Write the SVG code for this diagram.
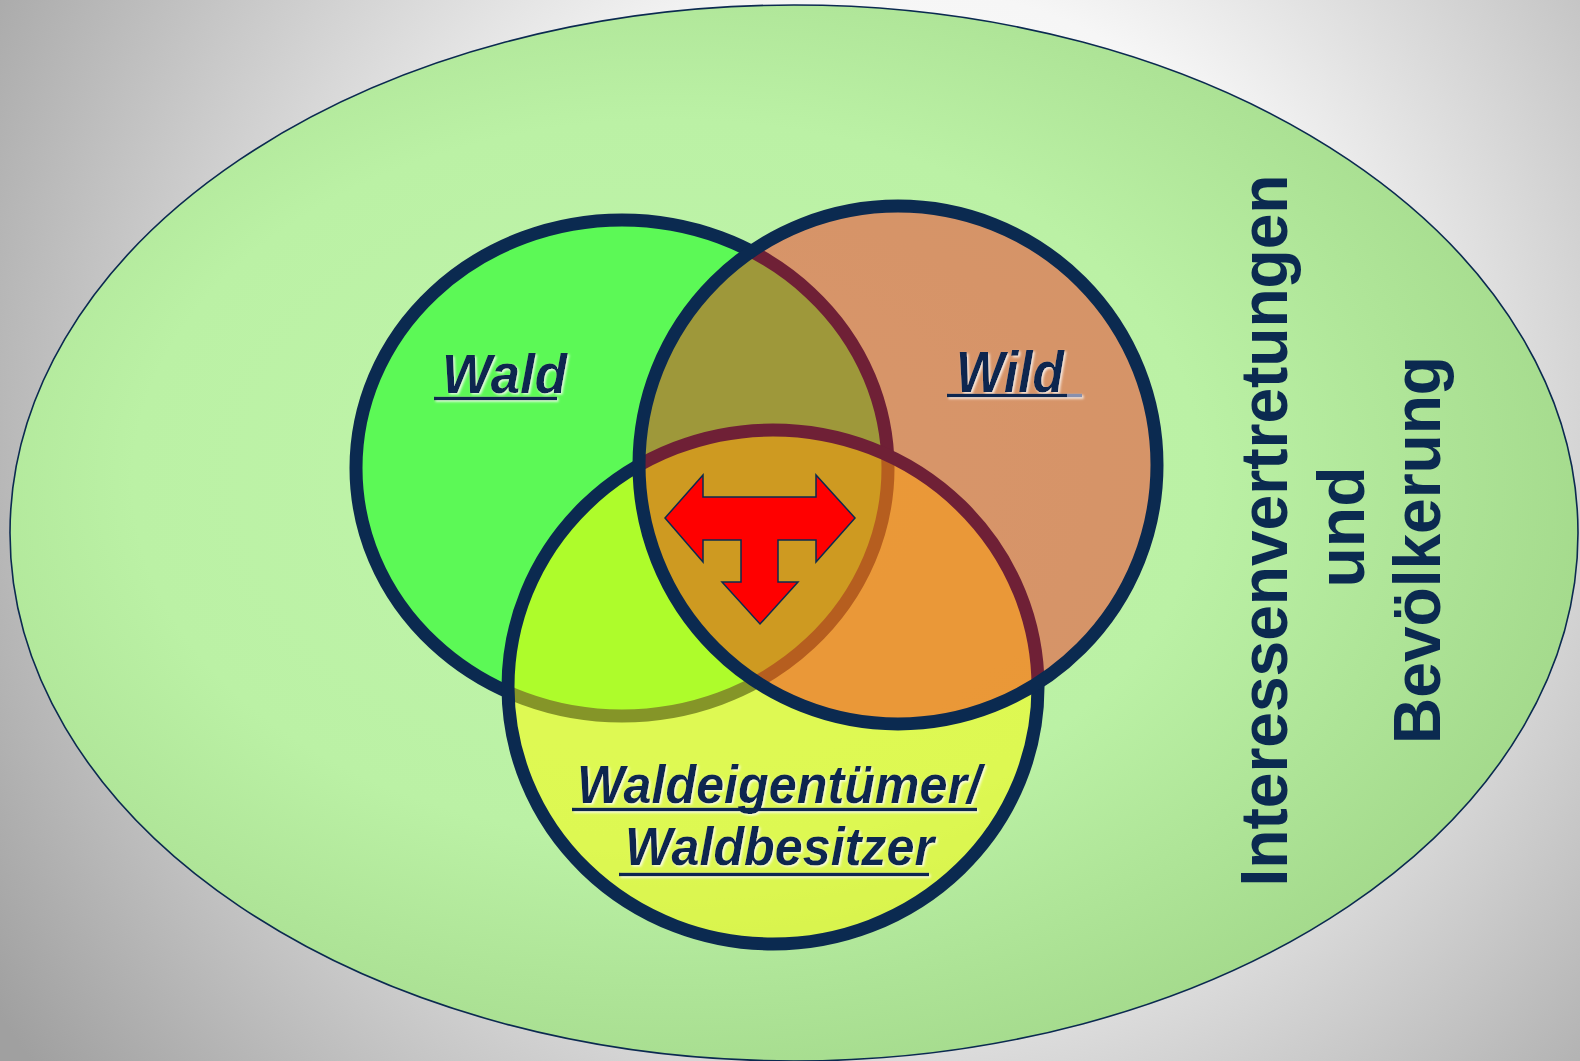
<svg xmlns="http://www.w3.org/2000/svg" width="1580" height="1061" viewBox="0 0 1580 1061">
  <defs>
    <radialGradient id="bg" gradientUnits="userSpaceOnUse" cx="900" cy="420" r="1080">
      <stop offset="0" stop-color="#ffffff"/>
      <stop offset="0.4" stop-color="#f6f6f6"/>
      <stop offset="1" stop-color="#a0a0a0"/>
    </radialGradient>
    <radialGradient id="outerFill" cx="0.42" cy="0.45" r="0.62">
      <stop offset="0" stop-color="#c0f5aa"/>
      <stop offset="0.55" stop-color="#bbf1a5"/>
      <stop offset="1" stop-color="#a2d88a"/>
    </radialGradient>
    <filter id="glow" x="-10%" y="-20%" width="120%" height="140%">
      <feDropShadow dx="1.5" dy="1.5" stdDeviation="0.8" flood-color="#ffffff" flood-opacity="0.85"/>
    </filter>
    <style>
      .ring { stroke: #0b2a50; stroke-width: 13; }
      .lbl { font-family: "Liberation Sans", Arial, sans-serif; font-weight: bold; font-style: italic; fill: #0c2850; }
      .ul { stroke: #0c2850; stroke-width: 3.5; }
      .vt { font-family: "Liberation Sans", Arial, sans-serif; font-weight: bold; fill: #0b2a50; font-size: 66px; }
    </style>
  </defs>

  <rect x="0" y="0" width="1580" height="1061" fill="url(#bg)"/>

  <g id="outer">
    <ellipse cx="794" cy="533" rx="784" ry="528" fill="url(#outerFill)" stroke="#0b2a50" stroke-width="1.6"/>
  </g>

  <g id="wald">
    <ellipse class="ring" cx="622" cy="468" rx="266" ry="248" fill="#5cf956"/>
  </g>

  <g id="besitzer">
    <ellipse class="ring" cx="773" cy="687" rx="265" ry="257" fill="#ffff00" fill-opacity="0.5"/>
  </g>

  <g id="wild">
    <ellipse class="ring" cx="898" cy="465" rx="259" ry="259" fill="#fa1414" fill-opacity="0.42"/>
  </g>

  <g id="connectors"/>

  <g id="conflict-arrow">
    <polygon points="665,518 703,475 703,497 816,497 816,475 855,518 816,562 816,540 778,540 778,582 798,582 760,624 722,582 741,582 741,540 703,540 703,562" fill="#ff0000" stroke="#0b2a50" stroke-width="1.5" stroke-linejoin="miter"/>
  </g>

  <g id="label-wald" filter="url(#glow)">
    <text class="lbl" x="442" y="393" font-size="56" textLength="125" lengthAdjust="spacingAndGlyphs">Wald</text>
    <line class="ul" x1="434" y1="398.5" x2="557" y2="398.5"/>
  </g>

  <g id="label-wild" filter="url(#glow)">
    <text class="lbl" x="956" y="391.5" font-size="57" textLength="108" lengthAdjust="spacingAndGlyphs">Wild</text>
    <line class="ul" x1="947" y1="395.5" x2="1067" y2="395.5"/>
    <line x1="1067" y1="395.5" x2="1082" y2="395.5" stroke="#8890ae" stroke-width="3.5"/>
  </g>

  <g id="label-besitzer" filter="url(#glow)">
    <text class="lbl" x="577" y="803" font-size="53.5" textLength="404" lengthAdjust="spacingAndGlyphs">Waldeigentümer/</text>
    <line class="ul" x1="572" y1="809.5" x2="977" y2="809.5"/>
    <text class="lbl" x="625" y="865" font-size="53.5" textLength="309" lengthAdjust="spacingAndGlyphs">Waldbesitzer</text>
    <line class="ul" x1="619" y1="874.5" x2="929" y2="874.5"/>
  </g>

  <g id="label-interessen">
    <text class="vt" transform="translate(1287,530.5) rotate(-90)" text-anchor="middle" textLength="712" lengthAdjust="spacingAndGlyphs">Interessenvertretungen</text>
    <text class="vt" transform="translate(1363.5,527) rotate(-90)" text-anchor="middle">und</text>
    <text class="vt" transform="translate(1440,744) rotate(-90)" text-anchor="start" textLength="388" lengthAdjust="spacingAndGlyphs">Bevölkerung</text>
  </g>
</svg>
